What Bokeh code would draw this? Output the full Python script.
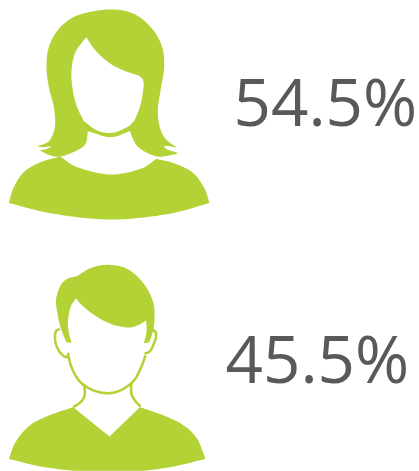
from bokeh.plotting import figure
from bokeh.models import Range1d
from bokeh.core.properties import value
from bokeh.embed import file_html
from bokeh.resources import INLINE
import numpy as np

shares = [54.5, 45.5]
share_labels = [f"{v}%" for v in shares]
GREEN = "#b2d235"
GREY = "#595959"

# pictogram outlines, traced at 3x; each sublist is one smooth run, corners between runs
woman_hair = [
    [(530,442),(505,437),(490,436)],
    [(490,436),(500,447),(535,458)],
    [(535,458),(500,466),(470,468),(430,452),(405,430),(388,392)],
    [(388,392),(330,410),(262,392)],
    [(262,392),(255,430),(225,452),(180,468),(150,465),(118,450)],
    [(118,450),(140,445),(155,436)],
    [(155,436),(130,440),(110,437)],
    [(110,437),(145,422),(163,380),(160,320),(145,260),(138,200),(145,140),(175,85),(230,45),(325,27),
     (400,40),(455,85),(485,140),(491,200),(480,270),(472,330),(478,380),(495,415),(530,442)],
]
woman_face = [
    [(257,110),(285,150),(330,190),(375,212),(415,225)],
    [(415,225),(428,240),(428,270),(418,320),(402,360)],
    [(402,360),(380,380),(335,397),(290,390),(250,362)],
    [(250,362),(230,320),(217,270),(213,210),(225,155),(257,110)],
]
woman_body = [
    [(25,607),(40,560),(70,515),(120,485),(180,468)],
    [(180,468),(230,500),(330,522),(420,505),(468,475)],
    [(468,475),(520,488),(575,515),(610,560),(627,607)],
    [(627,607),(530,635),(420,652),(330,657),(230,650),(120,632),(25,607)],
]
man_hair = [
    [(230,122),(270,98),(320,88),(380,100),(430,145),(458,200),(462,250),(458,285),(447,320)],
    [(447,320),(430,323)],
    [(430,323),(438,290),(437,255)],
    [(437,255),(410,270),(380,276),(330,265),(280,238),(240,205),(227,188)],
    [(227,188),(210,215),(202,260),(205,290),(213,322)],
    [(213,322),(197,320)],
    [(197,320),(180,275),(170,230),(167,190),(180,150),(200,130),(230,122)],
]
man_lines = [
    [(178,280),(165,290),(165,320),(178,350),(197,365),(205,352)],
    [(203,360),(215,400),(240,440),(280,465),(325,473),(365,462),(400,435),(420,400),(435,360)],
    [(432,355),(450,345),(465,310),(465,290),(455,282)],
    [(252,448),(252,480),(240,500),(218,515)],
    [(392,445),(393,475),(405,497),(420,513)],
]
man_body = [
    [(25,670),(45,620),(85,572),(140,542),(218,515)],
    [(218,515),(327,603)],
    [(327,603),(418,515)],
    [(418,515),(490,540),(550,570),(590,610),(615,670)],
    [(615,670),(520,693),(430,706)],
    [(430,706),(220,706)],
    [(220,706),(120,693),(25,670)],
]

def smooth(run, n=14):
    """Catmull-Rom through a run of traced points."""
    P = np.array(run, float)
    if len(P) < 3:
        return P
    Q = np.vstack([2*P[0]-P[1], P, 2*P[-1]-P[-2]])
    out = []
    for i in range(1, len(Q)-2):
        for t in np.linspace(0, 1, n, endpoint=False):
            a, b, c, d = Q[i-1], Q[i], Q[i+1], Q[i+2]
            out.append(0.5*((2*b)+(c-a)*t+(2*a-5*b+4*c-d)*t*t+(3*b-a-3*c+d)*t**3))
    out.append(P[-1])
    return np.array(out)

def outline(runs, dy=0):
    pts = np.vstack([smooth(r) for r in runs])
    return pts[:, 0]/3, pts[:, 1]/3 + dy

p = figure(width=419, height=471, x_range=Range1d(0, 419), y_range=Range1d(471, 0),
           toolbar_location=None, output_backend="svg", min_border=0)
p.axis.visible = False
p.grid.visible = False
p.outline_line_color = None
p.background_fill_color = "white"

for runs, col, dy in [(woman_hair, GREEN, 0), (woman_face, "white", 0), (woman_body, GREEN, 0),
                      (man_hair, GREEN, 235), (man_body, GREEN, 235)]:
    x, y = outline(runs, dy)
    p.patch(x, y, fill_color=col, line_color=None)
for run in man_lines:
    x, y = outline([run], 235)
    p.line(x, y, line_color=GREEN, line_width=2.6)

p.text(x=[233, 225], y=[144, 401], text=share_labels, text_font=value("Open Sans"),
       text_font_size="65.5px", text_color=GREY, text_baseline="bottom", text_align="left")

open("out.html", "w").write(file_html(p, INLINE))
